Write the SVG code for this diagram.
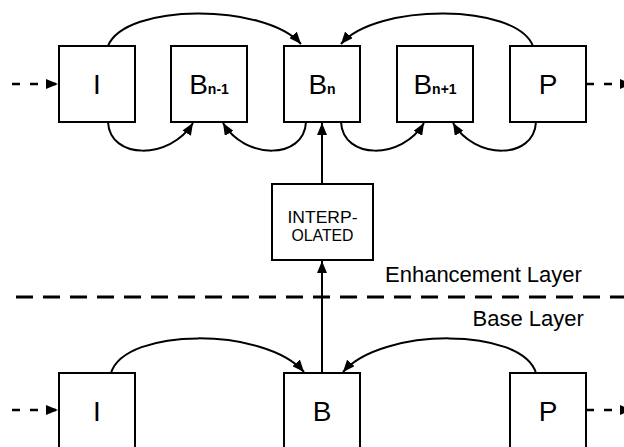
<svg xmlns="http://www.w3.org/2000/svg" width="624" height="447" viewBox="0 0 624 447">
<style>
.box{fill:#fff;stroke:#000;stroke-width:2}
.lbl{font-family:"Liberation Sans",Arial,sans-serif;font-size:28px;fill:#000;text-anchor:middle}
.sub{font-size:14px;font-weight:bold}
.small{font-family:"Liberation Sans",Arial,sans-serif;font-size:16px;fill:#000;text-anchor:middle}
.layer{font-family:"Liberation Sans",Arial,sans-serif;font-size:22px;fill:#000}
.arc{fill:none;stroke:#000;stroke-width:2;marker-end:url(#ah)}
.dash{fill:none;stroke:#000;stroke-width:2.5;stroke-dasharray:8 10;marker-end:url(#ah)}
.sep{fill:none;stroke:#000;stroke-width:3;stroke-dasharray:17 10}
</style>
<defs>
<marker id="ah" viewBox="0 0 12 10" refX="12" refY="5" markerWidth="12" markerHeight="10" markerUnits="userSpaceOnUse" orient="auto">
<path d="M0,0 L12,5 L0,10 z" fill="#000"/>
</marker>
</defs>
<g id="connectors">
<path class="arc" d="M108,46 C125,3 265,3 301,44"/>
<path class="arc" d="M533,46 C516,3 376,3 341,44"/>
<path class="arc" d="M108,122 C110,160 170,160 193,123"/>
<path class="arc" d="M306,122 C304,160 245,160 223,123"/>
<path class="arc" d="M341,122 C343,160 402,160 424,123"/>
<path class="arc" d="M536,122 C534,160 475,160 453,123"/>
<path class="arc" d="M111,373 C125,327 265,327 304,372"/>
<path class="arc" d="M536,373 C522,327 382,327 343,372"/>
<path class="arc" d="M322,184 L322,123"/>
<path class="arc" d="M322,373 L322,261"/>
<path class="dash" d="M12,84 L58,84"/>
<path class="dash" d="M586,84 L632,84"/>
<path class="dash" d="M12,410 L58,410"/>
<path class="dash" d="M586,410 L632,410"/>
<path class="sep" d="M16,297 L624,297"/>
</g>
<g id="I_top"><rect class="box" x="59" y="46" width="76" height="76"/><text class="lbl" x="97" y="94">I</text></g>
<g id="Bn-1"><rect class="box" x="171" y="46" width="76" height="76"/><text class="lbl" x="209" y="94">B<tspan class="sub">n-1</tspan></text></g>
<g id="Bn"><rect class="box" x="284" y="46" width="76" height="76"/><text class="lbl" x="322" y="94">B<tspan class="sub">n</tspan></text></g>
<g id="Bn+1"><rect class="box" x="397" y="46" width="76" height="76"/><text class="lbl" x="435" y="94">B<tspan class="sub">n+1</tspan></text></g>
<g id="P_top"><rect class="box" x="510" y="46" width="76" height="76"/><text class="lbl" x="548" y="94">P</text></g>
<g id="interp"><rect class="box" x="272" y="184" width="101" height="76"/><text class="small" x="322.5" y="223" textLength="70" lengthAdjust="spacingAndGlyphs">INTERP-</text><text class="small" x="322.5" y="241" textLength="62" lengthAdjust="spacingAndGlyphs">OLATED</text></g>
<g id="I_base"><rect class="box" x="59" y="373" width="76" height="76"/><text class="lbl" x="97" y="421">I</text></g>
<g id="B_base"><rect class="box" x="284" y="373" width="76" height="76"/><text class="lbl" x="322" y="421">B</text></g>
<g id="P_base"><rect class="box" x="510" y="373" width="76" height="76"/><text class="lbl" x="548" y="421">P</text></g>
<g id="labels">
<text class="layer" x="385" y="281.5">Enhancement Layer</text>
<text class="layer" x="472.5" y="325.5">Base Layer</text>
</g>
</svg>
